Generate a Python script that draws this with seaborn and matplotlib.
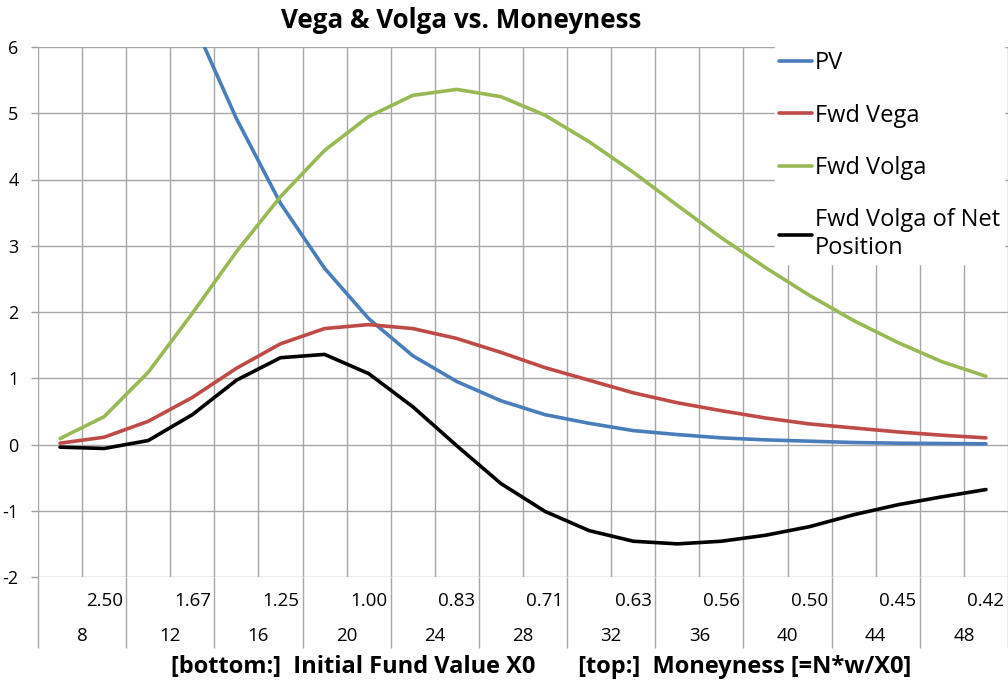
import numpy as np
import pandas as pd
import matplotlib
matplotlib.use("Agg")
import matplotlib.pyplot as plt
import seaborn as sns


# X0 runs 6, 8, ..., 48 (22 categories)
fund_value = [6, 8, 10, 12, 14, 16, 18, 20, 22, 24, 26,
              28, 30, 32, 34, 36, 38, 40, 42, 44, 46, 48]

pv = [17.5, 12.0, 8.6, 6.41, 4.92, 3.64, 2.66, 1.90, 1.34, 0.95, 0.66,
      0.45, 0.32, 0.21, 0.15, 0.10, 0.07, 0.05, 0.03, 0.02, 0.015, 0.01]

fwd_vega = [0.02, 0.11, 0.35, 0.71, 1.15, 1.52, 1.75, 1.81, 1.75, 1.60, 1.39,
            1.16, 0.97, 0.78, 0.63, 0.51, 0.40, 0.31, 0.25, 0.19, 0.14, 0.10]

fwd_volga = [0.09, 0.42, 1.09, 1.98, 2.91, 3.74, 4.44, 4.95, 5.27, 5.36, 5.25,
             4.97, 4.57, 4.11, 3.61, 3.12, 2.67, 2.25, 1.87, 1.54, 1.25, 1.03]

fwd_volga_net = [-0.04, -0.06, 0.06, 0.45, 0.97, 1.31, 1.36, 1.07, 0.57, -0.02, -0.59,
                 -1.01, -1.30, -1.46, -1.50, -1.46, -1.37, -1.24, -1.06, -0.91, -0.79, -0.68]

series_names = ["PV", "Fwd Vega", "Fwd Volga", "Fwd Volga of Net\nPosition"]
series_colors = ["#4A7EBB", "#BE4B48", "#98B954", "#000000"]

# two-row category axis labels
moneyness_labels = ["2.50", "1.67", "1.25", "1.00", "0.83", "0.71",
                    "0.63", "0.56", "0.50", "0.45", "0.42"]
x0_labels = ["8", "12", "16", "20", "24", "28", "32", "36", "40", "44", "48"]

y_ticks = [-2, -1, 0, 1, 2, 3, 4, 5, 6]

FONT = ["Open Sans", "DejaVu Sans"]


def main():

    sns.set_style("white")
    plt.rcParams["font.family"] = FONT
    plt.rcParams["text.color"] = "black"
    plt.rcParams["ytick.labelcolor"] = "black"

    n = len(fund_value)
    idx = np.arange(n)

    df = pd.DataFrame({
        "idx": np.tile(idx, 4),
        "value": pv + fwd_vega + fwd_volga + fwd_volga_net,
        "series": np.repeat(series_names, n),
    })

    fig = plt.figure(figsize=(10.08, 6.89), dpi=100)
    ax = fig.add_axes([38 / 1008, 112 / 689, 970 / 1008, 530 / 689])

    sns.lineplot(
        data=df,
        x="idx",
        y="value",
        hue="series",
        hue_order=series_names,
        palette=series_colors,
        linewidth=2.6,
        ax=ax,
        zorder=3,
    )

    ax.set_xlim(-0.5, n - 0.5)
    ax.set_ylim(-2, 6)

    # -----------------------
    # Grid / axes
    # -----------------------

    ax.set_xticks(np.arange(-0.5, n, 1.0))
    ax.set_xticklabels([])
    ax.tick_params(axis="x", length=0)

    ax.set_yticks(y_ticks)
    ax.set_yticklabels([str(t) for t in y_ticks], fontsize=13)
    ax.tick_params(axis="y", length=5, width=1, color="#A0A0A0", pad=9,
                   left=True, labelcolor="black")

    ax.grid(True, color="#A6A6A6", linewidth=1.0)
    for s in ax.spines.values():
        s.set_visible(False)

    ax.set_xlabel("")
    ax.set_ylabel("")

    # category label rows below the plot
    trans = ax.get_xaxis_transform()
    ax.vlines(np.arange(-0.5, n + 0.5, 2.0), -0.134, 0, transform=trans,
              color="#A6A6A6", linewidth=1.0, clip_on=False)

    for i, lab in enumerate(moneyness_labels):
        ax.text(1 + 2 * i, -0.045, lab, transform=trans, ha="center",
                va="center", fontsize=13.5, color="black")

    for i, lab in enumerate(x0_labels):
        ax.text(0.5 + 2 * i, -0.111, lab, transform=trans, ha="center",
                va="center", fontsize=13.5, color="black")

    # -----------------------
    # Legend
    # -----------------------

    handles, labels = ax.get_legend_handles_labels()
    leg = ax.legend(
        handles,
        labels,
        loc="upper left",
        bbox_to_anchor=((775 - 38) / 970, (577 - 47) / 530),
        fontsize=17,
        frameon=True,
        facecolor="white",
        edgecolor="white",
        framealpha=1.0,
        fancybox=False,
        borderpad=0.18,
        borderaxespad=0,
        handlelength=1.4,
        handletextpad=0.1,
        labelspacing=1.2,
    )
    leg.set_zorder(4)
    for t in leg.get_texts():
        t.set_color("black")

    # -----------------------
    # Titles
    # -----------------------

    fig.text(461 / 1008, 1 - 20 / 689, "Vega & Volga vs. Moneyness",
             ha="center", va="center", fontsize=18.7, fontweight="bold",
             color="black")

    fig.text(541 / 1008, 1 - 667 / 689,
             "[bottom:]  Initial Fund Value X0       [top:]  Moneyness [=N*w/X0]",
             ha="center", va="center", fontsize=17, fontweight="bold",
             color="black")

    fig.savefig("out.png", dpi=100)
    plt.close(fig)


if __name__ == "__main__":
    main()
